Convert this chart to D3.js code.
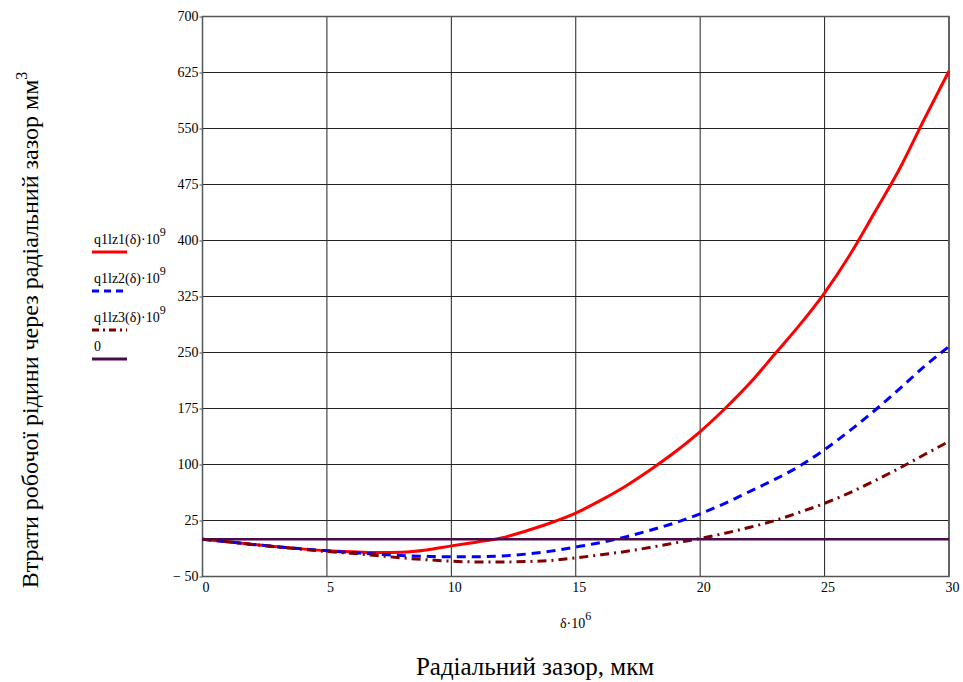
<!DOCTYPE html>
<html lang="uk">
<head>
	<meta charset="utf-8">
	<title>Втрати робочої рідини</title>
	<script src="https://cdn.jsdelivr.net/npm/d3@7"></script>
<style type="text/css">
	body{ margin:0; background:#fff; }
	svg text{ font-family:"Liberation Serif","Times New Roman",serif; fill:#000; }
</style>
</head>
<body>
<div id="vizContainer"></div>
<script type="text/javascript">
// -----------DATA-----------
var delta = [0,1,2,3,4,5,6,7,8,9,10,11,12,13,14,15,16,17,18,19,20,21,22,23,24,25,26,27,28,29,30];
var q1 = [0,-3.5,-7,-10,-13,-15.5,-17,-18,-17.5,-14.5,-9,-4,1.5,11,22,35,52,71,93,117,144,175,209,248,287,330,380,437,495,562,627];
var q2 = [0,-3.5,-7,-10,-13,-15.5,-18,-20,-22,-23,-23.5,-23.5,-22.5,-20,-16,-10.5,-4.5,3,12,22,34,48,64,80,98,120,145,172,201,231,258];
var q3 = [0,-3.5,-7,-10.5,-13.5,-16.5,-19,-22,-25,-27.5,-29.5,-30.5,-30.5,-30,-28.5,-25,-21,-16.5,-11,-5,1,8,16,25,36,48,62,78,95,113,131];
var zeroLine = [0,0];
var xTicks = [0,5,10,15,20,25,30];
var yTicks = [-50,25,100,175,250,325,400,475,550,625,700];
var legendLabels = ["q1lz1(δ)·10", "q1lz2(δ)·10", "q1lz3(δ)·10", "0"];

// -----------CANVAS-----------
var width = 963, height = 682;
var svgCanvas = d3.select("#vizContainer").append("svg")
	.attr("width", width)
	.attr("height", height);

var xScale = d3.scaleLinear().domain([0,30]).range([202.5,949]);
var yScale = d3.scaleLinear().domain([-50,700]).range([576.5,16.5]);

// grid
svgCanvas.selectAll(".vgrid").data(xTicks).enter().append("line")
	.attr("x1", function(d){ return xScale(d); })
	.attr("x2", function(d){ return xScale(d); })
	.attr("y1", yScale(-50)).attr("y2", yScale(700))
	.attr("stroke", "#222").attr("stroke-width", 1);
svgCanvas.selectAll(".hgrid").data(yTicks).enter().append("line")
	.attr("x1", xScale(0)).attr("x2", xScale(30))
	.attr("y1", function(d){ return yScale(d); })
	.attr("y2", function(d){ return yScale(d); })
	.attr("stroke", "#222").attr("stroke-width", 1);

// frame
svgCanvas.append("rect")
	.attr("x", xScale(0)).attr("y", yScale(700))
	.attr("width", xScale(30)-xScale(0)).attr("height", yScale(-50)-yScale(700))
	.attr("fill", "none").attr("stroke", "#555").attr("stroke-width", 1.5);

// axes
var yAxis = d3.axisLeft(yScale).tickValues(yTicks).tickSize(3).tickPadding(1)
	.tickFormat(function(d){ return d < 0 ? "\u2212 " + Math.abs(d) : d; });
var gy = svgCanvas.append("g").attr("transform", "translate(" + xScale(0) + ",0)").call(yAxis);
gy.attr("font-family", null);
gy.select(".domain").remove();
gy.selectAll("line").attr("stroke", "#555");
gy.selectAll("text").attr("font-size", 14);

var xAxis = d3.axisBottom(xScale).tickValues(xTicks).tickSize(0).tickPadding(6);
var gx = svgCanvas.append("g").attr("transform", "translate(0," + yScale(-50) + ")").call(xAxis);
gx.attr("font-family", null);
gx.select(".domain").remove();
gx.selectAll("text").attr("font-size", 14).attr("dx", 3);

// curves
var line = d3.line()
	.x(function(d){ return xScale(d[0]); })
	.y(function(d){ return yScale(d[1]); })
	.curve(d3.curveMonotoneX);

var series = [
	{ v: q1, color: "#ff0000", dash: null, w: 3 },
	{ v: q2, color: "#0000ff", dash: "9,6", w: 3 },
	{ v: q3, color: "#800000", dash: "9,5,2,5", w: 3 }
];
series.forEach(function(s){
	svgCanvas.append("path")
		.datum(delta.map(function(x,i){ return [x, s.v[i]]; }))
		.attr("d", line)
		.attr("fill", "none")
		.attr("stroke", s.color)
		.attr("stroke-width", s.w)
		.attr("stroke-dasharray", s.dash);
});
svgCanvas.append("path")
	.datum([[0, zeroLine[0]], [30, zeroLine[1]]])
	.attr("d", line)
	.attr("fill", "none").attr("stroke", "#4a0a4a").attr("stroke-width", 2.5);

// legend
var legendY = [244, 283, 322, 351];
var legendStyle = [
	{ color: "#ff0000", dash: null },
	{ color: "#0000ff", dash: "7,5" },
	{ color: "#800000", dash: "7,4,2,4" },
	{ color: "#4a0a4a", dash: null }
];
var leg = svgCanvas.selectAll(".leg").data(legendLabels).enter().append("g");
leg.append("text")
	.attr("x", 94)
	.attr("y", function(d,i){ return legendY[i]; })
	.attr("font-size", 14)
	.each(function(d){
		var t = d3.select(this);
		t.append("tspan").text(d);
		if (d !== "0") t.append("tspan").attr("dy", -8).attr("font-size", 12).text("9");
	});
leg.append("line")
	.attr("x1", 92).attr("x2", 127)
	.attr("y1", function(d,i){ return legendY[i] + 8; })
	.attr("y2", function(d,i){ return legendY[i] + 8; })
	.attr("stroke", function(d,i){ return legendStyle[i].color; })
	.attr("stroke-width", 3)
	.attr("stroke-dasharray", function(d,i){ return legendStyle[i].dash; });

// axis titles
var sub = svgCanvas.append("text").attr("x", 560).attr("y", 628).attr("font-size", 14);
sub.append("tspan").text("δ·10");
sub.append("tspan").attr("dy", -8).attr("font-size", 12).text("6");

svgCanvas.append("text")
	.attr("x", 535).attr("y", 675)
	.attr("text-anchor", "middle")
	.attr("font-size", 25)
	.text("Радіальний зазор, мкм");

var yt = svgCanvas.append("text")
	.attr("transform", "translate(38,330) rotate(-90)")
	.attr("text-anchor", "middle")
	.attr("font-size", 24);
yt.append("tspan").text("Втрати робочої рідини через радіальний зазор мм");
yt.append("tspan").attr("dy", -11).attr("font-size", 16).text("3");
</script>
</body>
</html>
